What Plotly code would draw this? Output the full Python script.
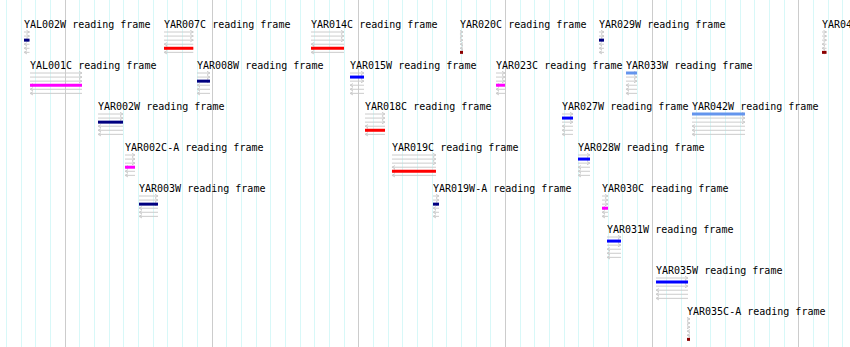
import plotly.graph_objects as go

# ---- data ----
genes = ["YAL002W", "YAR007C", "YAR014C", "YAR020C", "YAR029W", "YAR047C",
         "YAL001C", "YAR008W", "YAR015W", "YAR023C", "YAR033W",
         "YAR002W", "YAR018C", "YAR027W", "YAR042W",
         "YAR002C-A", "YAR019C", "YAR028W",
         "YAR003W", "YAR019W-A", "YAR030C",
         "YAR031W", "YAR035W", "YAR035C-A"]
starts = [147184, 156728, 166749, 176906, 186382, 201584,
          147594, 158978, 169408, 179360, 188222,
          152229, 170430, 183860, 192722,
          154069, 172269, 184950,
          155024, 175066, 186586,
          186927, 190268, 192381]
ends = [147559, 158726, 168998, 177110, 186723, 201891,
        151138, 159864, 170362, 179974, 188972,
        153933, 171793, 184610, 196335,
        154751, 175269, 185768,
        156319, 175475, 186995,
        187881, 192450, 192586]
lanes = [0, 0, 0, 0, 0, 0,
         1, 1, 1, 1, 1,
         2, 2, 2, 2,
         3, 3, 3,
         4, 4, 4,
         5, 6, 7]
frames = [2, 4, 4, 5, 2, 5,
          3, 2, 1, 3, 0,
          2, 4, 1, 0,
          3, 4, 1,
          2, 2, 3,
          1, 1, 5]
frame_colors = ["#6495ED", "#0000FF", "#000080", "#FF00FF", "#FF0000", "#8B0000"]

# ---- layout geometry ----
W, H = 850, 347
X0, X1 = 145548, 145548 + 850 * 68.17
BP_PER_PX = (X1 - X0) / W
PITCH = 41.0          # px per lane
LABEL_PX = 24.0       # label center of lane 0
ROW0_OFF = 8.0        # px from label center to first frame line
ROW_STEP = 4.07       # px between frame lines

def ypx(px):
    return (px - LABEL_PX) / PITCH

def frame_y(lane, r):
    return lane + (ROW0_OFF + ROW_STEP * r) / PITCH

ax = 3 * BP_PER_PX
ay = 1.6 / PITCH

gx, gy = [], []
for s, e, ln in zip(starts, ends, lanes):
    for r in range(6):
        y = frame_y(ln, r)
        gx += [s, e, None]
        gy += [y, y, None]
        if r < 3:
            gx += [e - ax, e, e - ax, None]
        else:
            gx += [s + ax, s, s + ax, None]
        gy += [y - ay, y, y + ay, None]

fig = go.Figure()
fig.add_trace(go.Scatter(x=gx, y=gy, mode="lines", line=dict(color="#cccccc", width=1),
                         hoverinfo="skip", showlegend=False))

for f, col in enumerate(frame_colors):
    bx, by = [], []
    for s, e, ln, fr in zip(starts, ends, lanes, frames):
        if fr == f:
            y = frame_y(ln, fr)
            bx += [s, e, None]
            by += [y, y, None]
    if bx:
        fig.add_trace(go.Scatter(x=bx, y=by, mode="lines", line=dict(color=col, width=3),
                                 hoverinfo="skip", showlegend=False))

for g, s, ln in zip(genes, starts, lanes):
    fig.add_annotation(x=s, y=ln, text=g + " reading frame", showarrow=False,
                       xanchor="left", yanchor="middle", xshift=-2,
                       font=dict(family="DejaVu Sans Mono", size=10, color="black"))

fig.update_layout(
    width=W, height=H, margin=dict(l=0, r=0, t=0, b=0),
    plot_bgcolor="white", paper_bgcolor="white",
    xaxis=dict(range=[X0, X1], showticklabels=False, ticks="", zeroline=False,
               showgrid=True, gridcolor="#cccccc", gridwidth=1, tick0=0, dtick=10000,
               minor=dict(showgrid=True, gridcolor="#d8f8f8", gridwidth=1, dtick=1000, tick0=0),
               showline=False, fixedrange=True),
    yaxis=dict(range=[ypx(H), ypx(0)], showticklabels=False, showgrid=False,
               zeroline=False, showline=False, fixedrange=True),
)

fig.write_html("out.html")
